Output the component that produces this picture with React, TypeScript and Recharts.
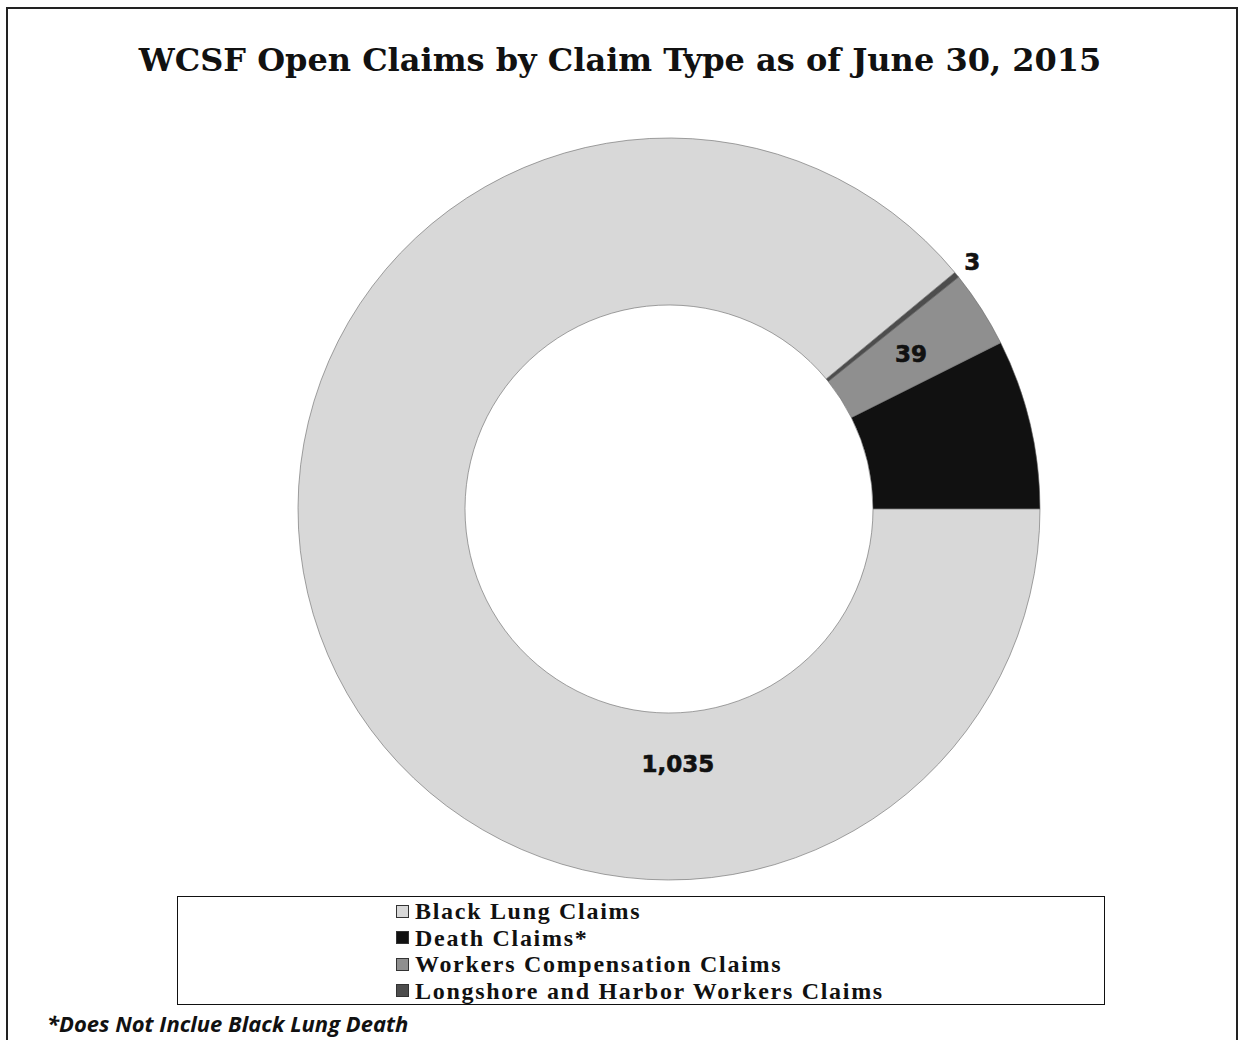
import { PieChart, Pie, Cell, Legend } from "recharts";

// slices in drawing order (counter-clockwise from 3 o'clock)
const claimTypes = [
  "Death Claims*",
  "Workers Compensation Claims",
  "Longshore and Harbor Workers Claims",
  "Black Lung Claims",
];
const claimCounts = [86, 39, 3, 1035];
const sliceColors = ["#111111", "#8f8f8f", "#4d4d4d", "#d8d8d8"];
const legendOrder = [
  "Black Lung Claims",
  "Death Claims*",
  "Workers Compensation Claims",
  "Longshore and Harbor Workers Claims",
];

const data = claimTypes.map((name, i) => ({ name, value: claimCounts[i] }));

const RADIAN = Math.PI / 180;

function renderLabel(props: any) {
  const { cx, cy, midAngle, innerRadius, outerRadius, value, name } = props;
  let angle = midAngle;
  let r = (innerRadius + outerRadius) / 2;
  if (name === "Longshore and Harbor Workers Claims") r = outerRadius + 20;
  if (name === "Black Lung Claims") {
    angle = 272;
    r = innerRadius + 51;
  }
  const x = cx + r * Math.cos(-angle * RADIAN);
  const y = cy + r * Math.sin(-angle * RADIAN);
  return (
    <text
      x={x}
      y={y}
      textAnchor="middle"
      dominantBaseline="central"
      fill="#111"
      fontFamily="DejaVu Sans"
      fontWeight="bold"
      fontSize={23}
      stroke="#111"
      strokeWidth={0.6}
    >
      {value.toLocaleString("en-US")}
    </text>
  );
}

function LegendBox() {
  return (
    <div
      style={{
        width: 928,
        height: 109,
        border: "1.5px solid #111",
        boxSizing: "border-box",
        paddingTop: 1,
        paddingLeft: 218,
        fontFamily: "Liberation Serif",
        fontWeight: "bold",
        fontSize: 24,
        letterSpacing: 1.7,
        lineHeight: "26.5px",
        color: "#111",
      }}
    >
      {legendOrder.map((name) => (
        <div key={name} style={{ display: "flex", alignItems: "center", height: 26.5 }}>
          <span
            style={{
              display: "inline-block",
              width: 11,
              height: 11,
              marginRight: 6,
              background: sliceColors[claimTypes.indexOf(name)],
              border: "1px solid #333",
            }}
          />
          {name}
        </div>
      ))}
    </div>
  );
}

export default function App() {
  return (
    <div
      style={{
        position: "absolute",
        left: 0,
        top: 0,
        width: 1246,
        height: 1040,
        background: "#fff",
        overflow: "hidden",
      }}
    >
      <div
        style={{
          position: "absolute",
          left: 6,
          top: 7,
          width: 1232,
          height: 1100,
          border: "2px solid #222",
          boxSizing: "border-box",
        }}
      />
      <div
        style={{
          position: "absolute",
          left: 0,
          top: 41,
          width: 1240,
          textAlign: "center",
          fontFamily: "DejaVu Serif",
          fontWeight: "bold",
          fontSize: 32,
          color: "#111",
        }}
      >
        WCSF Open Claims by Claim Type as of June 30, 2015
      </div>
      <PieChart width={1246} height={1040} style={{ position: "absolute", left: 0, top: 0 }}>
        <Pie
          data={data}
          dataKey="value"
          nameKey="name"
          cx={664}
          cy={504}
          innerRadius={204}
          outerRadius={371}
          startAngle={0}
          endAngle={360}
          stroke="#666"
          strokeWidth={0.6}
          label={renderLabel}
          labelLine={false}
          isAnimationActive={false}
        >
          {data.map((d, i) => (
            <Cell key={d.name} fill={sliceColors[i]} />
          ))}
        </Pie>
        <Legend
          content={() => <LegendBox />}
          wrapperStyle={{ position: "absolute", left: 177, top: 896, width: 928 }}
        />
      </PieChart>
      <div
        style={{
          position: "absolute",
          left: 47,
          top: 1008,
          fontFamily: "Open Sans",
          fontStyle: "italic",
          fontWeight: "bold",
          fontSize: 22,
          color: "#111",
        }}
      >
        *Does Not Inclue Black Lung Death
      </div>
    </div>
  );
}
